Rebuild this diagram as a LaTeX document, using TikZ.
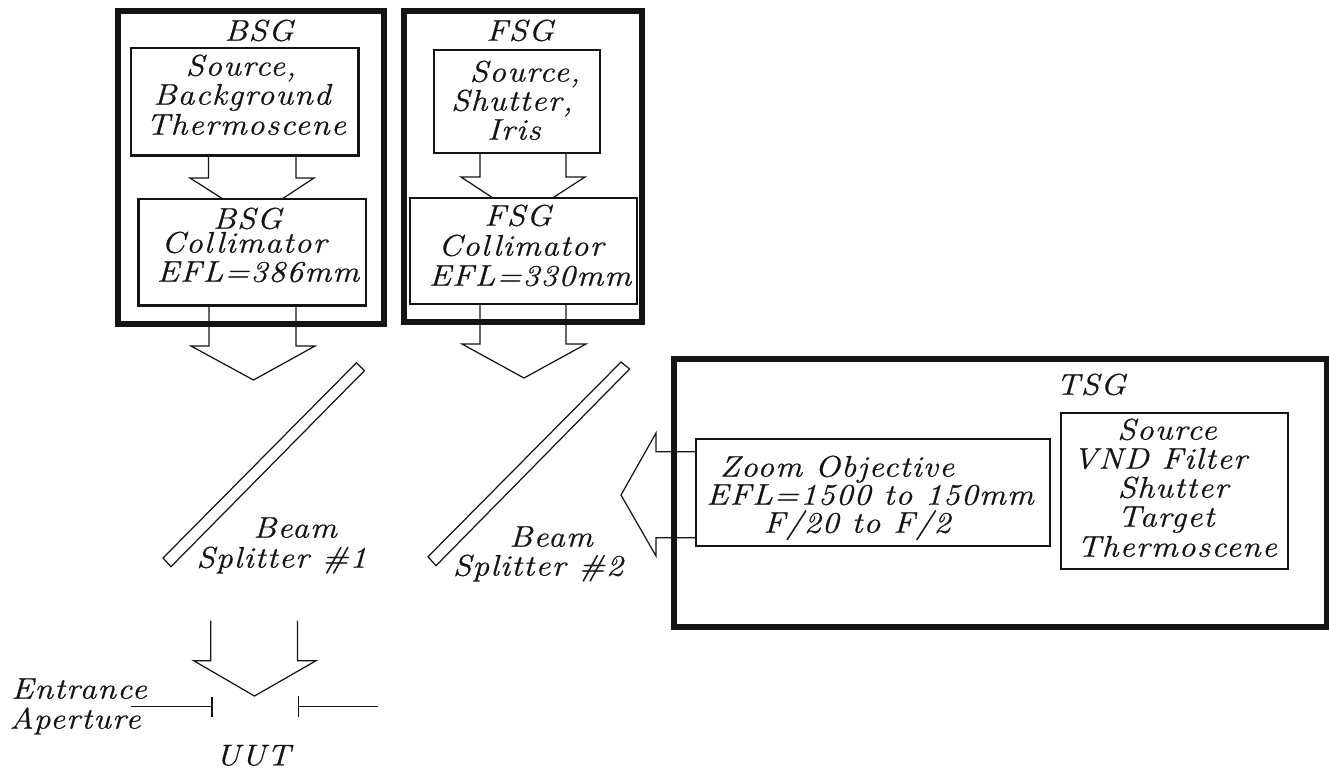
\documentclass[tikz,border=0pt]{standalone}
\usepackage{fontspec}
\usetikzlibrary{fit}
\newfontfamily\labfont[LetterSpace=4,FakeStretch=1.12,FakeBold=0.6]{Latin Modern Roman}
\definecolor{ink}{HTML}{141414}
\tikzset{
  frame/.style={draw=ink,line width=3.2pt,inner sep=0pt,outer sep=0pt},
  box/.style={draw=ink,fill=white,line width=1.5pt,inner sep=0pt,outer sep=0pt},
  beam/.style={draw=ink,line width=0.7pt},
  lab/.style={font=\fontsize{17}{19}\labfont\itshape,text=ink,inner sep=0pt,anchor=center,text height=11pt,text depth=0pt}
}
\begin{document}
\begin{tikzpicture}[x=0.02cm,y=-0.02cm]
\useasboundingbox (0,0) rectangle (1329,769);
% ================= generators =================
\node[frame,fit={(118,11) (384,324)}] (bsg) {};
\node[frame,fit={(404,11) (642,322)}] (fsg) {};
\node[frame,fit={(674,359) (1327,627)}] (tsg) {};
% ================= small beams, under the boxes =================
\node[box,fit={(131,48) (358.6,155.5)}] (bsgsrc) {};
\node[box,fit={(434,50) (600,153)}] (fsgsrc) {};
\draw[beam] (208.5,0 |- bsgsrc.south) -- (208.5,178) -- (190,178) -- (223,199);
\draw[beam] (296,0 |- bsgsrc.south) -- (296,178) -- (314,178) -- (282,199);
\draw[beam] (480,0 |- fsgsrc.south) -- (480,177) -- (461,177) -- (493,198);
\draw[beam] (566,0 |- fsgsrc.south) -- (566,177) -- (585,177) -- (552.5,198);
\node[box,fit={(138.6,199) (366,305.7)}] (bsgcol) {};
\node[box,fit={(410,198) (637,304)}] (fsgcol) {};
\node[box,fit={(696,439) (1050,546)}] (zoomobj) {};
\node[box,fit={(1061,413) (1288,569)}] (tsgsrc) {};
% ================= big beams =================
\coordinate (bsgtip) at (253.5,380);
\coordinate (fsgtip) at (524,378);
\coordinate (tsgtip) at (621,495);
\coordinate (uuttip) at (254.5,696);
\draw[beam] (209,0 |- bsgcol.south) -- (209,346) -- (191,346) -- (bsgtip) -- (315,346) -- (296,346) -- (296,0 |- bsgcol.south);
\draw[beam] (480,0 |- fsgcol.south) -- (480,344) -- (462,344) -- (fsgtip) -- (586,344) -- (566,344) -- (566,0 |- fsgcol.south);
\draw[beam] (zoomobj.west |- 0,451.7) -- (656,451.7) -- (656,433) -- (tsgtip) -- (656,556) -- (656,537.7) -- (zoomobj.west |- 0,537.7);
\draw[beam] (210.7,620.7) -- (210.7,660.7) -- (193.7,660.7) -- (uuttip) -- (316,660.7) -- (297.6,660.7) -- (297.6,620.7);
% ================= splitters =================
\draw[beam] (356.5,362.7) -- (364.4,370.7) -- (171,566.7) -- (163,558) -- cycle;
\draw[beam] (621,362) -- (629.6,369) -- (436,565.7) -- (428,556.7) -- cycle;
% ================= aperture =================
\draw[beam] (131,706.5) -- (212,706.5);
\draw[beam] (212,697) -- (212,717);
\draw[beam] (298.5,706.5) -- (377.5,706.5);
\draw[beam] (298.5,696) -- (298.5,717);
% ================= labels =================
\node[lab] (bsgname) at (259,31) {BSG};
\node[lab] (fsgname) at (520,31) {FSG};
\node[lab] (tsgname) at (1091,385) {TSG};
\node[lab] (bsgsrcA) at (241,66) {Source,};
\node[lab] (bsgsrcB) at (242,95) {Background};
\node[lab] (bsgsrcC) at (246,125) {Thermoscene};
\node[lab] (bsgcolA) at (247.5,219) {BSG};
\node[lab] (bsgcolB) at (244,243) {Collimator};
\node[lab] (bsgcolC) at (258,272) {EFL=386mm};
\node[lab] (fsgsrcA) at (525,72) {Source,};
\node[lab] (fsgsrcB) at (512,101) {Shutter,};
\node[lab] (fsgsrcC) at (514,130) {Iris};
\node[lab] (fsgcolA) at (518,216) {FSG};
\node[lab] (fsgcolB) at (521,246) {Collimator};
\node[lab] (fsgcolC) at (530,276) {EFL=330mm};
\node[lab] (zoomA) at (837,467) {Zoom Objective};
\node[lab] (zoomB) at (870,495) {EFL=1500 to 150mm};
\node[lab] (zoomC) at (857,523) {F/20 to F/2};
\node[lab] (tsgsrcA) at (1167,430) {Source};
\node[lab] (tsgsrcB) at (1160,459) {VND Filter};
\node[lab] (tsgsrcC) at (1173,488) {Shutter};
\node[lab] (tsgsrcD) at (1166,517) {Target};
\node[lab] (tsgsrcE) at (1177,547) {Thermoscene};
\node[lab] (splitA) at (295,528) {Beam};
\node[lab] (splitB) at (281.5,558) {Splitter \#1};
\node[lab] (splitC) at (551,537) {Beam};
\node[lab] (splitD) at (538,566) {Splitter \#2};
\node[lab] (aperA) at (79,689) {Entrance};
\node[lab] (aperB) at (75,719) {Aperture};
\node[lab] (uut) at (253,755.6) {UUT};
\end{tikzpicture}
\end{document}
